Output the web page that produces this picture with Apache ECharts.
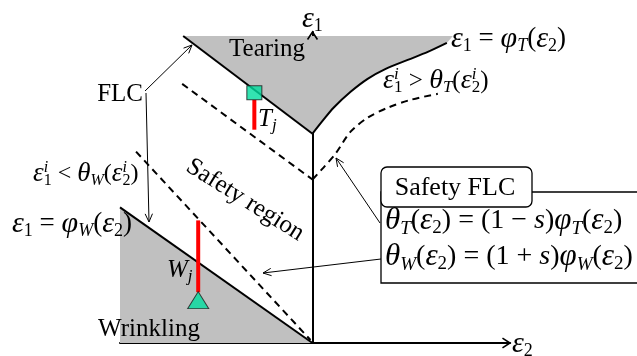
<!DOCTYPE html>
<html><head><meta charset="utf-8">
<script src="https://cdn.jsdelivr.net/npm/echarts@6/dist/echarts.min.js"></script>
<style>html,body{margin:0;padding:0;background:#fff}#c{width:637px;height:356px}</style>
</head><body><div id="c"></div>
<script>
// ---- data (diagram units: x = ε2, y = ε1; origin where the axes cross) ----
const tearingFLC       = [[-129,308],[0,210]];
const tearingCurve     = [[0,210],[11,224],[21,236],[38,252],[55,265],[73,275],[95,284],[115,292],[134,301]];
const tearingTopCorner = [[140,308]];
const safetyTearLine   = [[-130,260],[0,164]];
const safetyTearCurve  = [[0,164],[11,176],[23,190],[38,212],[55,226],[75,236],[98,244],[125,250]];
const wrinklingFLC     = [[-192,136],[0,0]];
const wrinklingCorner  = [[-192,0]];
const safetyWrinkLine  = [[-176,192],[-2,3]];
const tearBar          = [[-58,244],[-58,214]];
const tearPoint        = [[-58,251]];
const wrinkBar         = [[-114,123],[-114,51]];
const wrinkPoint       = [[-114,43]];
const xRange = [-192,197];
const yRange = [0,312];

const tearPoly  = [tearingFLC[0]].concat(tearingCurve, tearingTopCorner);
const wrinkPoly = wrinklingFLC.concat(wrinklingCorner);

const SERIF = '"Liberation Serif","Times New Roman",serif';
const GRAY = '#c0c0c0', GREEN = '#00dc9e', RED = '#ff0000';

function mathStyles(size, gf){
  gf = gf || 1.12;
  const s = Math.round(size*0.68), lh = Math.round(size*1.2);
  const base = {fontFamily:SERIF, fill:'#000'};
  return {
    n: Object.assign({}, base, {fontSize:size, lineHeight:lh}),
    i: Object.assign({}, base, {fontSize:size, lineHeight:lh, fontStyle:'italic'}),
    g: Object.assign({}, base, {fontSize:Math.round(size*gf), lineHeight:lh, fontStyle:'italic'}),
    b: Object.assign({}, base, {fontSize:s, lineHeight:s, verticalAlign:'bottom'}),
    bi: Object.assign({}, base, {fontSize:s, lineHeight:s, verticalAlign:'bottom', fontStyle:'italic'}),
    p: Object.assign({}, base, {fontSize:s, lineHeight:Math.round(size*0.5), verticalAlign:'top', fontStyle:'italic', width:0})
  };
}
function mtext(x, y, str, size, opts){
  opts = opts || {};
  const align = opts.align || 'left';
  return {
    type:'text', x:x, y:y, rotation: opts.rotation || 0, z:10,
    style:{
      text:str, rich: mathStyles(size, opts.gf),
      fontFamily:SERIF, fontSize:size, fill:'#000',
      align:align, textAlign:align, verticalAlign:'middle', textVerticalAlign:'middle'
    }
  };
}
function ptext(x, y, str, size, opts){
  opts = opts || {};
  const align = opts.align || 'center';
  return {
    type:'text', x:x, y:y, rotation: opts.rotation || 0, z:10,
    style:{ text:str, fontFamily:SERIF, fontSize:size, fill:'#000',
      align:align, textAlign:align, verticalAlign:'middle', textVerticalAlign:'middle' }
  };
}
function arrowHead(x2,y2,a,L,h,w){
  const p1 = [x2 - L*Math.cos(a-h), y2 - L*Math.sin(a-h)];
  const p2 = [x2 - L*Math.cos(a+h), y2 - L*Math.sin(a+h)];
  return {type:'polyline', z:5, shape:{points:[p1,[x2,y2],p2]}, style:{stroke:'#000', lineWidth:w, fill:'none'}};
}
function arrow(x1,y1,x2,y2){
  const a = Math.atan2(y2-y1, x2-x1);
  return [
    {type:'line', z:5, shape:{x1:x1,y1:y1,x2:x2,y2:y2}, style:{stroke:'#000', lineWidth:1}},
    arrowHead(x2,y2,a,9,0.42,1)
  ];
}
function polySeries(poly){
  return {
    type:'custom', coordinateSystem:'cartesian2d', z:1, silent:true, clip:false,
    data:[[0,0]],
    renderItem: function(params, api){
      return {type:'polygon', shape:{points: poly.map(p => api.coord(p))}, style:{fill:GRAY}};
    }
  };
}
function lineSeries(data, dashed, smooth, color, width){
  return {
    type:'line', data:data, showSymbol:false, symbol:'none', smooth: smooth || false,
    z: 3, silent:true, animation:false, clip:false,
    lineStyle:{color: color || '#000', width: width || 2, type: dashed ? [7,5] : 'solid'}
  };
}

const chart = echarts.init(document.getElementById('c'), null, {renderer:'canvas'});
chart.setOption({
  animation:false,
  backgroundColor:'#fff',
  grid:{left:120, right:127, top:32, bottom:13, containLabel:false},
  xAxis:{type:'value', min:xRange[0], max:xRange[1],
    axisLine:{onZero:true, lineStyle:{color:'#000', width:2}},
    axisTick:{show:false}, axisLabel:{show:false}, splitLine:{show:false}},
  yAxis:{type:'value', min:yRange[0], max:yRange[1],
    axisLine:{onZero:true, lineStyle:{color:'#000', width:2}},
    axisTick:{show:false}, axisLabel:{show:false}, splitLine:{show:false}},
  series:[
    polySeries(tearPoly),
    polySeries(wrinkPoly),
    lineSeries(tearingFLC),
    lineSeries(tearingCurve, false, 0.3),
    lineSeries(safetyTearLine, true),
    lineSeries(safetyTearCurve, true, 0.3),
    lineSeries(wrinklingFLC),
    lineSeries(safetyWrinkLine, true),
    lineSeries(tearBar, false, false, RED, 4),
    lineSeries(wrinkBar, false, false, RED, 4),
    {type:'scatter', data:tearPoint, symbol:'rect', symbolSize:[15,14], z:6, silent:true,
      itemStyle:{color:GREEN, borderColor:'#1a1a1a', borderWidth:1}},
    {type:'scatter', data:wrinkPoint, symbol:'triangle', symbolSize:[21,17], z:6, silent:true,
      itemStyle:{color:GREEN, borderColor:'#1a1a1a', borderWidth:1}}
  ]
});

// axis arrowheads at the ends of the axes
const yEnd = chart.convertToPixel({gridIndex:0}, [0, yRange[1]]);
const xEnd = chart.convertToPixel({gridIndex:0}, [xRange[1], 0]);

const graphics = [].concat(
  [arrowHead(yEnd[0], yEnd[1], -Math.PI/2, 9, 0.58, 1.6),
   arrowHead(xEnd[0], xEnd[1], 0, 9, 0.58, 1.6)],
  // Safety FLC box
  [{type:'rect', z:4, shape:{x:381, y:192, width:270, height:91}, style:{fill:'#fff', stroke:'#000', lineWidth:1.3}},
   {type:'rect', z:4, shape:{x:381, y:167, width:151, height:40, r:6}, style:{fill:'#fff', stroke:'#000', lineWidth:1.3}}],
  arrow(145,91,192,45),
  arrow(146,93,149,222),
  arrow(380,223,336,158),
  arrow(381,259,263,273),
  [
    ptext(267,49,'Tearing',25),
    ptext(149,329,'Wrinkling',25),
    ptext(143,94,'FLC',25,{align:'right'}),
    ptext(455,188,'Safety FLC',26),
    ptext(245,200,'Safety region',25,{rotation:-32*Math.PI/180}),
    mtext(302,19,'{g|ε}{b|1}',27),
    mtext(512,344,'{g|ε}{b|2}',27),
    mtext(451,39,'{g|ε}{b|1}{n| = }{g|φ}{bi|T}{n|(}{g|ε}{b|2}{n|)}',27),
    mtext(383,81,'{g|ε}{p|i}{b|1}{n| > }{g|θ}{bi|T}{n|(}{g|ε}{p|i}{b|2}{n|)}',25),
    mtext(33,174,'{g|ε}{p|i}{b|1}{n| < }{g|θ}{bi|W}{n|(}{g|ε}{p|i}{b|2}{n|)}',24),
    mtext(12,224,'{g|ε}{b|1}{n| = }{g|φ}{bi|W}{n|(}{g|ε}{b|2}{n|)}',27),
    mtext(258,119,'{i|T}{bi|j}',25),
    mtext(167,270,'{i|W}{bi|j}',25),
    mtext(385,221,'{g|θ}{bi|T}{n|(}{g|ε}{b|2}{n|) = (1 − }{i|s}{n|)}{g|φ}{bi|T}{n|(}{g|ε}{b|2}{n|)}',28),
    mtext(385,257,'{g|θ}{bi|W}{n|(}{g|ε}{b|2}{n|) = (1 + }{i|s}{n|)}{g|φ}{bi|W}{n|(}{g|ε}{b|2}{n|)}',28)
  ]
);
chart.setOption({graphic:{elements:graphics}});
</script></body></html>
